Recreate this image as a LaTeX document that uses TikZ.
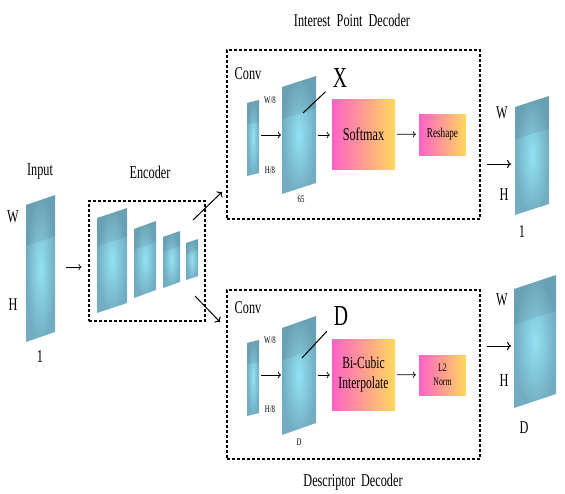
\documentclass[tikz,border=0pt]{standalone}
\usepackage{fontspec}
\setmainfont{Liberation Serif}[FakeStretch=0.68]
\usepackage{tikz}
\usetikzlibrary{arrows, arrows.meta, positioning}

\definecolor{slabout}{HTML}{72ADC1}
\definecolor{slabin}{HTML}{93E2F4}
\definecolor{gpink}{HTML}{FF62C6}
\definecolor{gyellow}{HTML}{FFD95C}

% block of a feature map: left x, top-left y, right x, top-right y, height
\newcommand{\slab}[5]{%
\shade[inner color=slabin, outer color=slabout] (#1,#2) -- (#3,#4) -- (#3,#4+#5) -- (#1,#2+#5) -- cycle;
\fill[black, opacity=0.07] (#1,#2) -- (#3,#4) -- (#3,#4+0.3*#5) -- (#1,#2+0.3*#5) -- cycle;}

\begin{document}
\begin{tikzpicture}[x=1pt, y=-1pt,
  lbl/.style={inner sep=0pt, font=\fontsize{18}{20}\selectfont},
  sml/.style={inner sep=0pt, font=\fontsize{10}{11}\selectfont},
  bigl/.style={inner sep=0pt, font=\fontsize{29}{30}\selectfont},
  dashbox/.style={draw, dash pattern=on 3pt off 2pt, line width=1.1pt, minimum width=253pt, minimum height=169pt},
  gradbox/.style={shading=axis, left color=gpink, right color=gyellow, align=center, inner sep=0pt},
  arr/.style={-{To[length=3pt]}, line width=0.7pt},
  thickarr/.style={-{To[length=4pt]}, line width=1pt}]
\useasboundingbox (0,0) rectangle (565,493);

\slab{26}{205}{55}{195}{137}
\node (input) [lbl] at (40,172) {Input};
\node (inw) [lbl] at (13,217) {W};
\node (inh) [lbl] at (13,305) {H};
\node (inc) [lbl] at (40,357) {1};

\node (enc) [draw, dash pattern=on 3pt off 2pt, line width=1.1pt, minimum width=116pt, minimum height=120pt] at (147,261) {};
\node (enclbl) [lbl] at (150,172) {Encoder};
\slab{97}{218}{127}{208}{95}
\slab{134}{229}{156}{221}{69}
\slab{163}{237}{180}{231}{51}
\slab{186}{243}{198}{239}{37}

\node (ipd) [dashbox] at (353.5,134.5) {};
\node (ipdlbl) [lbl] at (352,20) {Interest\, Point\, Decoder};
\node (conv1) [lbl] at (248,74) {Conv};
\slab{247}{103}{259}{100}{73}
\node (w81) [sml] at (270,100) {W/8};
\node (h81) [sml] at (270,170) {H/8};
\slab{282}{87}{316}{76}{107}
\node (c65) [sml] at (301,199) {65};
\node (xlbl) [bigl] at (340,78) {X};
\node (soft) [gradbox, minimum width=63pt, minimum height=70pt, font=\fontsize{18}{20}\selectfont] at (363.5,134) {Softmax};
\node (resh) [gradbox, minimum width=47pt, minimum height=41pt, font=\fontsize{13.5}{15}\selectfont] at (442.5,134.5) {Reshape};

\slab{515}{107}{549}{96}{108}
\node (o1w) [lbl] at (502,113) {W};
\node (o1h) [lbl] at (504,195) {H};
\node (o1c) [lbl] at (522,232) {1};

\node (dd) [dashbox] at (353.5,374.5) {};
\node (ddlbl) [lbl] at (353,482) {Descriptor\, Decoder};
\node (conv2) [lbl] at (248,308) {Conv};
\slab{247}{343}{259}{340}{73}
\node (w82) [sml] at (270,340) {W/8};
\node (h82) [sml] at (270,409) {H/8};
\slab{282}{328}{316}{316}{107}
\node (cd) [sml] at (299,442) {D};
\node (dlbl) [bigl] at (341,316) {D};
\node (bicub) [gradbox, minimum width=63pt, minimum height=71pt, font=\fontsize{17}{20}\selectfont] at (363.5,374.5) {Bi-Cubic\\Interpolate};
\node (l2) [gradbox, minimum width=47pt, minimum height=40pt, font=\fontsize{11.5}{14}\selectfont] at (442.5,375) {L2\\Norm};

\slab{514}{289}{556}{275}{119}
\node (o2w) [lbl] at (502,300) {W};
\node (o2h) [lbl] at (504,381) {H};
\node (o2c) [lbl] at (524,428) {D};

\coordinate (a0) at (66,267);
\coordinate (a1) at (193,220);
\coordinate (a2) at (222,192);
\coordinate (a3) at (195,296);
\coordinate (a4) at (220,322);
\coordinate (t0) at (261,135);
\coordinate (t1) at (281,135);
\coordinate (t2) at (318,135);
\coordinate (t3) at (303,113);
\coordinate (t4) at (487,164);
\coordinate (t5) at (511,164);
\coordinate (b0) at (261,375);
\coordinate (b1) at (281,375);
\coordinate (b2) at (318,375);
\coordinate (b3) at (302,358);
\coordinate (b4) at (487,346);
\coordinate (b5) at (511,346);

\draw [arr, shorten >=7pt] (a0) -- (enc.west |- a0);
\draw [thickarr] (a1) -- (a2);
\draw [thickarr] (a3) -- (a4);
\draw [arr] (t0) -- (t1);
\draw [arr, shorten >=2pt] (t2) -- (soft.west |- t2);
\draw [arr, shorten <=2pt, shorten >=3pt] (soft) -- (resh);
\draw [line width=1pt, shorten >=10pt] (t3) -- (xlbl);
\draw [thickarr] (t4) -- (t5);
\draw [arr] (b0) -- (b1);
\draw [arr, shorten >=2pt] (b2) -- (bicub.west |- b2);
\draw [arr, shorten <=2pt, shorten >=3pt] (bicub) -- (l2);
\draw [line width=1pt, shorten >=10pt] (b3) -- (dlbl);
\draw [thickarr] (b4) -- (b5);
\end{tikzpicture}
\end{document}
